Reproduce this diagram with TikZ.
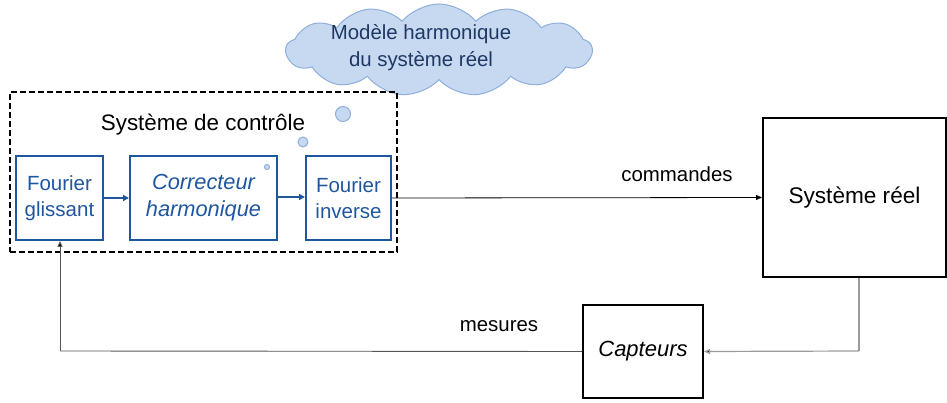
\documentclass[tikz,border=0pt]{standalone}
\usepackage{fontspec}
\setmainfont{Liberation Sans}
\usetikzlibrary{shapes.symbols,arrows.meta}
\definecolor{cloudfill}{HTML}{C6D9F1}
\definecolor{cloudline}{HTML}{8EAEDB}
\definecolor{cloudtext}{HTML}{1F3864}
\definecolor{boxblue}{HTML}{1F56A0}
\definecolor{fbgray}{HTML}{9A9A9A}
\definecolor{fbdark}{HTML}{555555}
\tikzset{
  bluebox/.style={draw=boxblue, line width=2pt, text=boxblue, align=center, inner sep=0pt, font=\fontsize{20.5}{26}\selectfont},
  blackbox/.style={draw=black, line width=2pt, align=center, inner sep=0pt},
  bubble/.style={circle, fill=cloudfill, draw=cloudline, line width=1pt, inner sep=0pt},
  bluearrow/.style={draw=boxblue, line width=1.8pt, -{Triangle[length=6pt,width=6pt]}},
  thinarrow/.style={line width=0.8pt, -{Triangle[length=6pt,width=5pt]}},
  lbl/.style={font=\fontsize{20.4}{23}\selectfont, inner sep=0pt}
}
\begin{document}
\begin{tikzpicture}[x=1pt,y=-1pt]
\useasboundingbox (0,0) rectangle (947,403);
% cloud
\node[cloud, cloud puffs=13, cloud puff arc=100, aspect=3.5, fill=cloudfill, draw=cloudline, line width=1pt,
      minimum width=306pt, minimum height=92pt] (cloud) at (439,50) {};
\node[text=cloudtext, align=center, inner sep=0pt, font=\fontsize{20.4}{27}\selectfont] (cloudtxt) at (421,48) {Modèle harmonique\\du système réel};
% dashed control box
\node[draw=black, dashed, dash pattern=on 6pt off 3pt, line width=2pt, minimum width=387pt, minimum height=160pt, inner sep=0pt] (ctrl) at (203.5,172) {};
\node[font=\fontsize{22.4}{26}\selectfont, inner sep=0pt] (ctrltitle) at (203,125) {Système de contrôle};
% bubbles
\node[bubble, minimum size=15pt] (b1) at (343,114) {};
\node[bubble, minimum size=10pt] (b2) at (303,142) {};
\node[bubble, minimum size=5pt] (b3) at (267,167) {};
% blue boxes
\node[bluebox, minimum width=87pt, minimum height=84pt] (fg) at (59.5,198) {Fourier\\glissant};
\node[bluebox, minimum width=147pt, minimum height=84pt, font=\fontsize{21.8}{27}\selectfont\itshape] (corr) at (203.5,198) {Correcteur\\harmonique};
\node[bluebox, minimum width=85pt, minimum height=84pt] (fi) at (348.5,198) {Fourier\\inverse};
% real system
\node[blackbox, minimum width=183pt, minimum height=159pt, font=\fontsize{22.6}{26}\selectfont] (sys) at (854.5,197.5) {Système réel};
\node[blackbox, minimum width=120pt, minimum height=93pt, font=\fontsize{22}{26}\selectfont\itshape] (cap) at (643,351.5) {Capteurs};
% arrows
\draw[bluearrow] (fg.east) -- (corr.west);
\draw[bluearrow] (corr.east |- 0,197) -- (fi.west |- 0,197);
\draw[thinarrow] (fi.east) -- (sys.west);
\node[lbl] (cmd) at (677,174) {commandes};
\coordinate (c1) at (859,351);
\draw[fbgray, line width=1.2pt] (sys.south -| c1) -- (c1);
\draw[fbgray, line width=1.2pt, -{Triangle[length=6pt,width=5pt,fill=black]}] (c1) -- (cap.east);
\coordinate (c2) at (60,351);
\draw[fbdark, line width=0.9pt] (cap.west) -- (c2);
\draw[fbdark, line width=0.9pt, -{Triangle[length=6pt,width=5pt,fill=black]}] (c2) -- (fg.south -| c2);
\node[lbl] (mes) at (499,326) {mesures};
\end{tikzpicture}
\end{document}
